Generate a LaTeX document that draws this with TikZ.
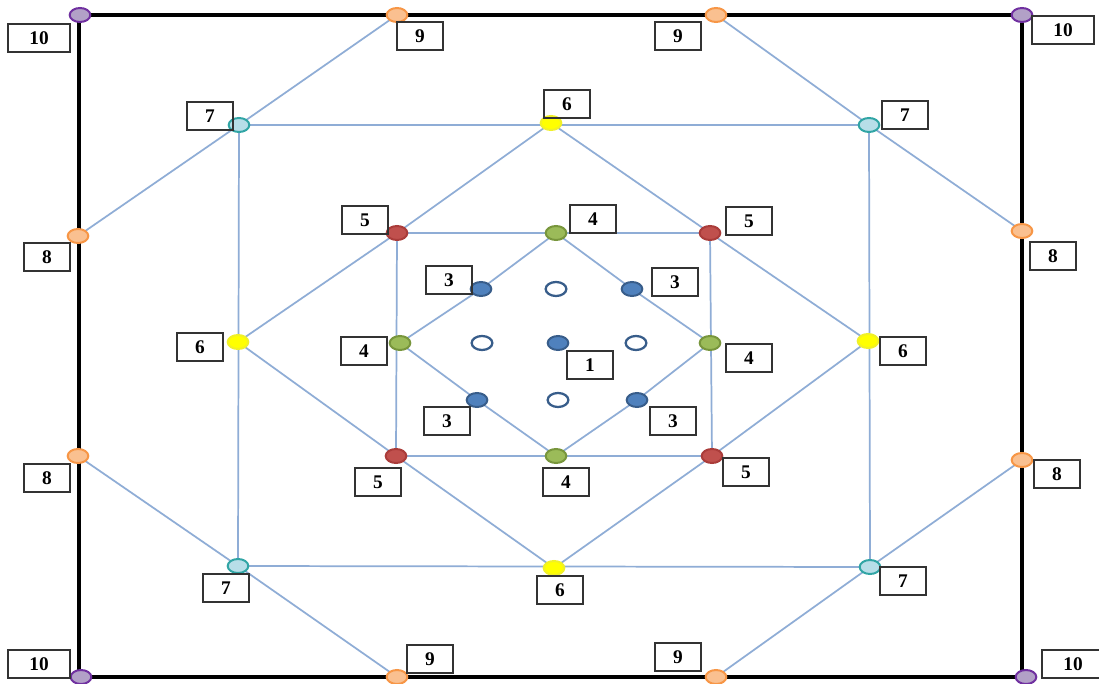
\documentclass[tikz,border=0pt]{standalone}
\usepackage{fontspec}
\setmainfont{Liberation Serif}
\usetikzlibrary{shapes.geometric,backgrounds}
\definecolor{linec}{RGB}{143,173,214}
\definecolor{purf}{RGB}{178,160,199}
\definecolor{purb}{RGB}{112,48,160}
\definecolor{orf}{RGB}{250,192,144}
\definecolor{orb}{RGB}{247,150,70}
\definecolor{cyf}{RGB}{183,222,232}
\definecolor{cyb}{RGB}{49,165,165}
\definecolor{yef}{RGB}{255,255,0}
\definecolor{yeb}{RGB}{240,240,40}
\definecolor{ref}{RGB}{192,80,77}
\definecolor{reb}{RGB}{170,60,58}
\definecolor{grf}{RGB}{155,187,89}
\definecolor{grb}{RGB}{120,150,60}
\definecolor{blf}{RGB}{79,129,189}
\definecolor{blb}{RGB}{56,93,138}
\begin{document}
\begin{tikzpicture}[x=0.75pt,y=-0.75pt,
  dot/.style={ellipse,minimum width=15.5pt,minimum height=10.5pt,inner sep=0pt,line width=1.5pt},
  pur/.style={dot,draw=purb,fill=purf},
  ora/.style={dot,draw=orb,fill=orf},
  cya/.style={dot,draw=cyb,fill=cyf},
  yel/.style={dot,draw=yeb,fill=yef},
  red/.style={dot,draw=reb,fill=ref},
  gre/.style={dot,draw=grb,fill=grf},
  blu/.style={dot,draw=blb,fill=blf},
  opn/.style={dot,draw=blb,fill=white,line width=1.7pt},
  lab/.style={draw=black!80,line width=1.1pt,minimum width=34.5pt,minimum height=21pt,inner sep=0pt,font=\bfseries\fontsize{14.5}{14.5}\selectfont},
  wlab/.style={lab,minimum width=46.5pt},
  conn/.style={draw=linec,line width=1.3pt},
  frame/.style={draw=black,line width=2.6pt}]
\useasboundingbox (0,0) rectangle (1099,684);
% corner coordinates of the frame
\coordinate (k1) at (79,15);
\coordinate (k4) at (1022,677);
% purple
\node[pur] (p1) at (80,15) {};
\node[pur] (p2) at (1022,15) {};
\node[pur] (p3) at (81,677) {};
\node[pur] (p4) at (1026,677) {};
% orange
\node[ora] (o1) at (397,15) {};
\node[ora] (o2) at (716,15) {};
\node[ora] (o3) at (78,236) {};
\node[ora] (o4) at (1022,231) {};
\node[ora] (o5) at (78,456) {};
\node[ora] (o6) at (1022,460) {};
\node[ora] (o7) at (397,677) {};
\node[ora] (o8) at (716,677) {};
% cyan
\node[cya] (c1) at (239,125) {};
\node[cya] (c2) at (869,125) {};
\node[cya] (c3) at (238,566) {};
\node[cya] (c4) at (870,567) {};
% yellow
\node[yel] (y1) at (551,123) {};
\node[yel] (y2) at (238,342) {};
\node[yel] (y3) at (868,341) {};
\node[yel] (y4) at (554,568) {};
% red
\node[red] (r1) at (397,233) {};
\node[red] (r2) at (710,233) {};
\node[red] (r3) at (396,456) {};
\node[red] (r4) at (712,456) {};
% green
\node[gre] (g1) at (556,233) {};
\node[gre] (g2) at (400,343) {};
\node[gre] (g3) at (710,343) {};
\node[gre] (g4) at (556,456) {};
% blue
\node[blu] (b1) at (481,289) {};
\node[blu] (b2) at (632,289) {};
\node[blu] (b0) at (558,343) {};
\node[blu] (b3) at (477,400) {};
\node[blu] (b4) at (637,400) {};
% open
\node[opn] (w1) at (556,289) {};
\node[opn] (w2) at (482,343) {};
\node[opn] (w3) at (636,343) {};
\node[opn] (w4) at (558,400) {};
% labels
\node[wlab] (l1) at (39,38) {10};
\node[lab] (l2) at (420,36) {9};
\node[lab] (l3) at (678,36) {9};
\node[wlab] (l4) at (1063,30) {10};
\node[lab] (l5) at (210,116) {7};
\node[lab] (l6) at (567,104) {6};
\node[lab] (l7) at (905,115) {7};
\node[lab] (l8) at (47,257) {8};
\node[lab] (l9) at (1053,256) {8};
\node[lab] (l10) at (365,220) {5};
\node[lab] (l11) at (593,219) {4};
\node[lab] (l12) at (749,221) {5};
\node[lab] (l13) at (449,280) {3};
\node[lab] (l14) at (675,282) {3};
\node[lab] (l15) at (200,347) {6};
\node[lab] (l16) at (364,351) {4};
\node[lab] (l17) at (590,365) {1};
\node[lab] (l18) at (749,358) {4};
\node[lab] (l19) at (903,351) {6};
\node[lab] (l20) at (447,421) {3};
\node[lab] (l21) at (673,421) {3};
\node[lab] (l22) at (378,482) {5};
\node[lab] (l23) at (566,482) {4};
\node[lab] (l24) at (746,472) {5};
\node[lab] (l25) at (47,478) {8};
\node[lab] (l26) at (1057,474) {8};
\node[lab] (l27) at (226,588) {7};
\node[lab] (l28) at (560,590) {6};
\node[lab] (l29) at (903,581) {7};
\node[wlab] (l30) at (39,664) {10};
\node[lab] (l31) at (430,659) {9};
\node[lab] (l32) at (678,657) {9};
\node[wlab] (l33) at (1073,664) {10};
\begin{scope}[on background layer]
\fill[white] (0,0) rectangle (1099,684);
\draw[frame] (k1) rectangle (k4);
% square 5
\draw[conn] (r1.center) -- (r2.center) -- (r4.center) -- (r3.center) -- cycle;
% diamond 4
\draw[conn] (g1.center) -- (b2.center) -- (g3.center) -- (b4.center) -- (g4.center) -- (b3.center) -- (g2.center) -- (b1.center) -- cycle;
% diamond 6
\draw[conn] (y1.center) -- (r1.center) -- (y2.center) -- (r3.center) -- (y4.center) -- (r4.center) -- (y3.center) -- (r2.center) -- cycle;
% square 7
\draw[conn] (c1.center) -- (c2.center) -- (c4.center) -- (c3.center) -- cycle;
% corner diagonals
\draw[conn] (o1.center) -- (c1.center) -- (o3.center);
\draw[conn] (o2.center) -- (c2.center) -- (o4.center);
\draw[conn] (o5.center) -- (c3.center) -- (o7.center);
\draw[conn] (o6.center) -- (c4.center) -- (o8.center);
\end{scope}
\end{tikzpicture}
\end{document}
